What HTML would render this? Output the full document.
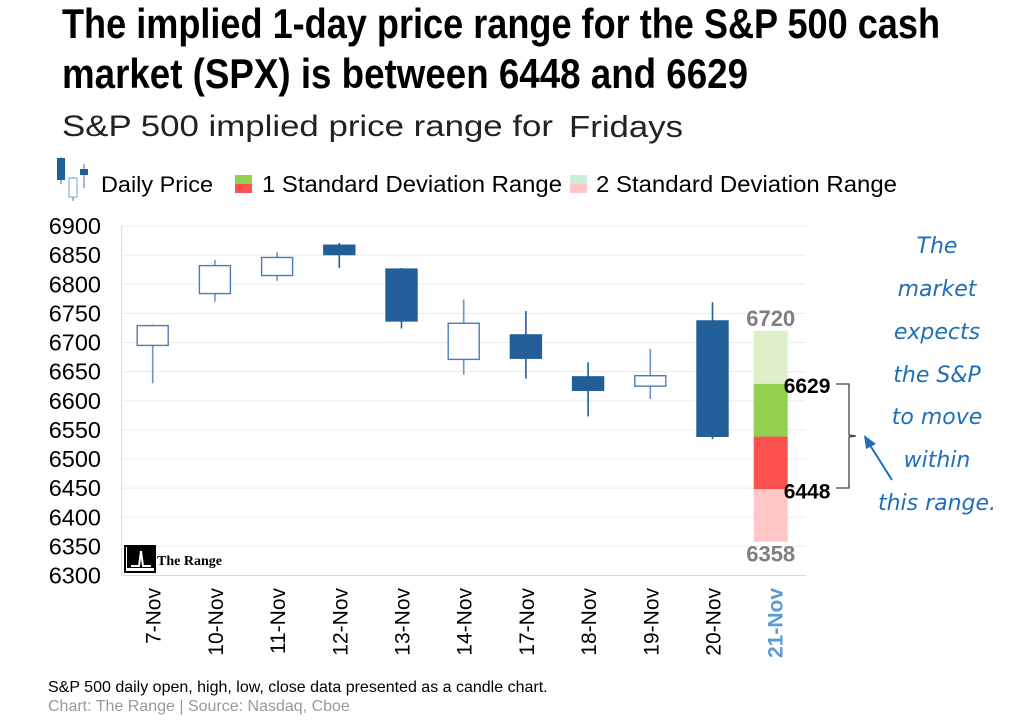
<!DOCTYPE html>
<html><head><meta charset="utf-8">
<style>
body{margin:0;background:#fff;width:1029px;height:721px;overflow:hidden;font-family:"Liberation Sans",sans-serif;}
svg{position:absolute;left:0;top:0;}
</style></head>
<body>
<svg id="chart" width="1029" height="721">
<text x="62" y="38" font-family="'Liberation Sans Narrow','Liberation Sans',sans-serif" font-weight="bold" font-size="42" fill="#000" textLength="878" lengthAdjust="spacingAndGlyphs">The implied 1-day price range for the S&amp;P 500 cash</text>
<text x="62" y="88" font-family="'Liberation Sans Narrow','Liberation Sans',sans-serif" font-weight="bold" font-size="42" fill="#000" textLength="686" lengthAdjust="spacingAndGlyphs">market (SPX) is between 6448 and 6629</text>
<text x="62" y="136" font-size="30" fill="#222" textLength="491" lengthAdjust="spacingAndGlyphs">S&amp;P 500 implied price range for</text>
<text x="569" y="137" font-size="31" fill="#222" textLength="114" lengthAdjust="spacingAndGlyphs">Fridays</text>
<g>
<g>
<line x1="61" y1="157" x2="61" y2="184" stroke="#7da0c8" stroke-width="1.5"/>
<rect x="57" y="158" width="8" height="22" fill="#225e98"/>
<line x1="73" y1="177" x2="73" y2="201" stroke="#7da0c8" stroke-width="1.5"/>
<rect x="69" y="178" width="8" height="19" fill="#fff" stroke="#7da0c8"/>
<line x1="84" y1="164" x2="84" y2="188" stroke="#7da0c8" stroke-width="1.5"/>
<rect x="80" y="169" width="8" height="6" fill="#225e98"/>
<text x="101" y="192" font-size="22" fill="#000" textLength="112" lengthAdjust="spacingAndGlyphs">Daily Price</text>
</g>
<g>
<rect x="235" y="175" width="17" height="9" fill="#92d050"/><rect x="235" y="184" width="17" height="9" fill="#ff5050"/>
<text x="262" y="192" font-size="23" fill="#000" textLength="300" lengthAdjust="spacingAndGlyphs">1 Standard Deviation Range</text>
</g>
<g>
<rect x="570" y="175" width="17" height="9" fill="#c9efd9"/><rect x="570" y="184" width="17" height="9" fill="#ffc7c7"/>
<text x="596" y="192" font-size="23" fill="#000" textLength="301" lengthAdjust="spacingAndGlyphs">2 Standard Deviation Range</text>
</g>
</g>
<g id="plot"></g>
<g font-family="'DejaVu Sans',sans-serif" font-style="italic" font-size="22" fill="#1f6fb8" text-anchor="middle">
<text x="937" y="253">The</text>
<text x="937" y="296">market</text>
<text x="937" y="339">expects</text>
<text x="937" y="382">the S&amp;P</text>
<text x="937" y="424">to move</text>
<text x="937" y="467">within</text>
<text x="937" y="510">this range.</text>
</g>
<path d="M836 384 H849 V435 L856 436 L849 437 V488 H836" fill="none" stroke="#444" stroke-width="1.3"/>
<g>
<line x1="892" y1="480" x2="868" y2="442" stroke="#1f6fb8" stroke-width="2"/>
<polygon points="864,435 876,444 866,449" fill="#1f6fb8"/>
</g>
<text x="48" y="692" font-size="16" fill="#000">S&amp;P 500 daily open, high, low, close data presented as a candle chart.</text>
<text x="48" y="711" font-size="16" fill="#999">Chart: The Range | Source: Nasdaq, Cboe</text>
</svg>
<script>
const categories=["7-Nov","10-Nov","11-Nov","12-Nov","13-Nov","14-Nov","17-Nov","18-Nov","19-Nov","20-Nov","21-Nov"];
const openVals=[6695,6784,6815,6867,6826,6671,6713,6641,6625,6737];
const highVals=[6731,6842,6855,6871,6828,6774,6754,6666,6689,6769];
const lowVals=[6630,6770,6806,6828,6724,6645,6638,6573,6603,6534];
const closeVals=[6729,6832,6846,6851,6737,6733,6673,6618,6643,6539];
const rangeLevels=[6720,6629,6538.5,6448,6358];
const yTicks=[6300,6350,6400,6450,6500,6550,6600,6650,6700,6750,6800,6850,6900];
const NS="http://www.w3.org/2000/svg";
const plot=document.getElementById('plot');
const X0=121.6,STEP=62.2,Y0=575.5,Y1=226,VMIN=6300,VMAX=6900;
function y(v){return Y0-(v-VMIN)/(VMAX-VMIN)*(Y0-Y1);}
function xc(i){return X0+STEP*(i+0.5);}
function mk(tag,attrs,parent){const e=document.createElementNS(NS,tag);for(const k in attrs)e.setAttribute(k,attrs[k]);(parent||plot).appendChild(e);return e;}
mk('rect',{x:X0,y:Y1,width:STEP*11,height:Y0-Y1,fill:'#fff'});
yTicks.forEach(t=>{
  if(t>VMIN){const g=mk('line',{x1:X0,x2:X0+STEP*11,y1:y(t),y2:y(t),stroke:'#ececec','stroke-width':1});
  
  }
  const l=mk('text',{x:101,y:y(t)+8,'font-size':23.5,'text-anchor':'end',fill:'#000'});
  l.textContent=t;
  
  
});
mk('line',{x1:X0,x2:X0,y1:Y1,y2:Y0,stroke:'#d9d9d9'});
mk('line',{x1:X0,x2:X0+STEP*11,y1:Y0,y2:Y0,stroke:'#d9d9d9'});
const logo=mk('g',{});


mk('rect',{x:125,y:546,width:30,height:26,fill:'none',stroke:'#000','stroke-width':2},logo);
mk('rect',{x:127,y:546,width:28,height:22,fill:'#000'},logo);
mk('path',{d:'M131 566 L139 566 L141 551 L143 566 L151 566',stroke:'#fff','stroke-width':2,fill:'none'},logo);
const lt=mk('text',{x:157,y:565,'font-family':"'Liberation Serif',serif",'font-weight':'bold','font-size':14,fill:'#000'},logo);
lt.textContent='The Range';
const W=31;
for(let i=0;i<openVals.length;i++){
  const o=openVals[i],c=closeVals[i],up=c>o;
  const g=mk('g',{});
  
  
  mk('line',{x1:xc(i),x2:xc(i),y1:y(highVals[i]),y2:y(lowVals[i]),stroke:up?'#6b95c4':'#225e98','stroke-width':1.6},g);
  const top=y(Math.max(o,c)),bot=y(Math.min(o,c));
  mk('rect',{x:xc(i)-W/2,y:top,width:W,height:Math.max(bot-top,1),fill:up?'#fff':'#225e98',stroke:up?'#4a7db8':'#225e98','stroke-width':1.4},g);
}
const ri=10,rw=34,rx=xc(ri)-rw/2-4;
const cols=['#deefc9','#92d050','#ff5050','#ffc7c7'];
const rnames=['plus-2sd-band','plus-1sd-band','minus-1sd-band','minus-2sd-band'];
for(let k=0;k<4;k++){
  const r=mk('rect',{x:rx,y:y(rangeLevels[k]),width:rw,height:y(rangeLevels[k+1])-y(rangeLevels[k]),fill:cols[k]});
  
  
}
const lbls=[[rangeLevels[0],'#7f7f7f',-5,'middle',rx+rw/2],[rangeLevels[1],'#000',9,'start',rx+30],[rangeLevels[3],'#000',9,'start',rx+30],[rangeLevels[4],'#7f7f7f',20,'middle',rx+rw/2]];
lbls.forEach(([v,col,dy,anc,lx])=>{
  const t=mk('text',{x:lx,y:y(v)+dy,'font-size':anc==='start'?21:22,'font-weight':'bold',fill:col,'text-anchor':anc});
  t.textContent=Math.round(v);
  
  
});
categories.forEach((c,i)=>{
  const last=i===categories.length-1;
  const t=mk('text',{transform:`translate(${xc(i)+8},588) rotate(-90)`,'font-size':21,'text-anchor':'end',fill:last?'#5b9bd5':'#000','font-weight':last?'bold':'normal'});
  t.textContent=c;
  
  
});
</script>
</body></html>
